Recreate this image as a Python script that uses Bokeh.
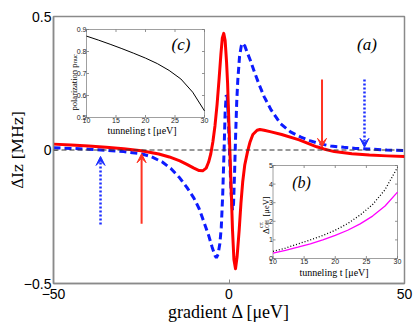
import math
from bokeh.plotting import figure
from bokeh.models import Range1d, FixedTicker, Label, Span, Arrow, VeeHead, ColumnDataSource
from bokeh.embed import file_html
from bokeh.resources import INLINE

# ---------------- data ----------------
red_x = [-50, -45, -40, -35, -30, -25, -20, -17, -14, -12, -10, -8.5, -7.5, -6.5, -5.8, -5.2,
         -4.6, -4.0, -3.4, -2.8, -2.3, -1.9, -1.5, -1.1, -0.7, -0.4, 0.0, 0.3, 0.6, 1.0, 1.4,
         1.85, 2.3, 2.9, 3.4, 3.9, 4.5, 5.3, 6.0, 6.8, 8.0, 8.8, 10, 12, 15, 20, 25, 27, 30,
         35, 40, 45, 50]
red_y = [0.022, 0.019, 0.015, 0.010, 0.005, -0.003, -0.015, -0.026, -0.041, -0.054, -0.068,
         -0.077, -0.078, -0.068, -0.045, -0.015, 0.030, 0.090, 0.170, 0.270, 0.360, 0.420,
         0.437, 0.410, 0.330, 0.250, 0.090, -0.020, -0.140, -0.300, -0.410, -0.445, -0.400,
         -0.300, -0.200, -0.120, -0.055, -0.005, 0.030, 0.058, 0.074, 0.077, 0.074, 0.068,
         0.058, 0.038, 0.012, 0.004, -0.006, -0.014, -0.019, -0.022, -0.024]

blue_x = [-50, -45, -40, -35, -30, -25, -22, -19, -16.5, -14, -12, -10, -8.5, -7, -5.8, -4.8,
          -4.0, -3.6, -3.1, -2.6, -2.2, -1.8, -1.4, -1.1, -0.8, -0.5, -0.2, 0.2, 0.6, 1.0,
          1.3, 1.6, 1.9, 2.2, 2.5, 3.0, 3.5, 3.9, 4.5, 5.2, 6.1, 7.3, 8.5, 10, 12, 14.7,
          17.5, 20.5, 23, 26, 29, 32.7, 36, 39.4, 45, 50]
blue_y = [0.008, 0.006, 0.003, -0.001, -0.006, -0.014, -0.026, -0.045, -0.070, -0.105, -0.140,
          -0.180, -0.220, -0.275, -0.320, -0.364, -0.395, -0.404, -0.390, -0.350, -0.290,
          -0.170, 0.000, 0.140, 0.205, 0.200, 0.120, -0.030, -0.160, -0.225, -0.200, -0.080,
          0.060, 0.180, 0.260, 0.350, 0.390, 0.400, 0.390, 0.365, 0.335, 0.290, 0.248, 0.200,
          0.150, 0.098, 0.068, 0.048, 0.035, 0.023, 0.015, 0.010, 0.006, 0.004, 0.000, -0.002]

arrow_red_x = [-24.9, 26.5]
arrow_red_from = [-0.276, 0.264]
arrow_red_to = [-0.014, 0.010]
arrow_blue_x = [-36.6, 38.6]
arrow_blue_from = [-0.279, 0.264]
arrow_blue_to = [-0.024, 0.010]

main_xticks = [-50, 0, 50]
main_xtick_labels = ["\u221250", "0", "50"]
main_yticks = [-0.5, 0, 0.5]
main_ytick_labels = ["\u22120.5", "0", "0.5"]
x_label = "gradient \u0394 [\u03bceV]"
y_label = "\u0394\u0307Iz [MHz]"

# inset (c)
c_t = [10, 12, 14, 16, 18, 20, 22, 24, 26, 28, 30]
c_p = [0.870, 0.852, 0.833, 0.813, 0.792, 0.770, 0.745, 0.714, 0.675, 0.615, 0.530]
c_xticks = [10, 15, 20, 25, 30]
c_yticks = [0.5, 0.6, 0.7, 0.8, 0.9]

# inset (b)
b_t = [10, 12, 14, 16, 18, 20, 22, 24, 26, 28, 30]
b_dotted = [0.38, 0.56, 0.78, 1.00, 1.24, 1.52, 1.88, 2.34, 2.90, 3.70, 4.90]
b_magenta = [0.29, 0.44, 0.61, 0.79, 1.00, 1.24, 1.52, 1.86, 2.28, 2.82, 3.57]
b_xticks = [10, 15, 20, 25, 30]
b_yticks = [0, 1, 2, 3, 4, 5]

# ---------------- layout ----------------
W, H = 415, 325
ML, MR, MT, MB = 53, 11, 16, 42
FX0, FX1 = ML, W - MR
FY0, FY1 = MT, H - MB
XMIN, XMAX, YMIN, YMAX = -50, 50, -0.5, 0.5

GRAY = "#8a8a8a"

p = figure(width=W, height=H, x_range=Range1d(XMIN, XMAX), y_range=Range1d(YMIN, YMAX),
           output_backend="svg", toolbar_location=None,
           min_border_left=ML, min_border_right=MR, min_border_top=MT, min_border_bottom=MB,
           background_fill_color="white", border_fill_color="white")
p.grid.visible = False
p.outline_line_color = GRAY
p.outline_line_width = 1.5

p.xaxis.ticker = FixedTicker(ticks=main_xticks, minor_ticks=[])
p.xaxis.major_label_overrides = dict(zip(main_xticks, main_xtick_labels))
p.yaxis.ticker = FixedTicker(ticks=main_yticks, minor_ticks=[])
p.yaxis.major_label_overrides = dict(zip(main_yticks, main_ytick_labels))
for ax in (p.xaxis[0], p.yaxis[0]):
    ax.axis_line_color = GRAY
    ax.axis_line_width = 1.5
    ax.major_tick_line_color = GRAY
    ax.major_tick_in = 4
    ax.major_tick_out = 0
    ax.minor_tick_line_color = None
    ax.major_label_text_font = "Liberation Sans"
    ax.major_label_text_font_size = "14px"
    ax.major_label_text_color = "black"
    ax.axis_label_text_font_style = "normal"
    ax.axis_label_text_color = "black"
p.yaxis.major_label_standoff = 2
p.xaxis.major_label_standoff = 5
p.xaxis.axis_label = x_label
p.xaxis.axis_label_text_font = "Liberation Serif"
p.xaxis.axis_label_text_font_size = "18px"
p.xaxis.axis_label_standoff = 0
p.yaxis.axis_label = y_label
p.yaxis.axis_label_text_font = "DejaVu Serif"
p.yaxis.axis_label_text_font_size = "15px"
p.yaxis.axis_label_standoff = -6

# zero line
p.add_layout(Span(location=0, dimension="width", line_color="#333333", line_width=1,
                  line_dash="5 3"))

# main curves
p.line(blue_x, blue_y, line_color="#0d1bff", line_width=3, line_dash="7 4")
p.line(red_x, red_y, line_color="#ff0000", line_width=3, line_join="round")

# arrows
red_src = ColumnDataSource(dict(x=arrow_red_x, y0=arrow_red_from, y1=arrow_red_to))
blue_src = ColumnDataSource(dict(x=arrow_blue_x, y0=arrow_blue_from, y1=arrow_blue_to))
p.add_layout(Arrow(source=red_src, x_start="x", y_start="y0", x_end="x", y_end="y1",
                   line_color="#ff3322", line_width=2,
                   end=VeeHead(size=9, fill_color="#ff3322", line_color="#ff3322", line_width=1)))
p.add_layout(Arrow(source=blue_src, x_start="x", y_start="y0", x_end="x", y_end="y1",
                   line_color="#1a2cff", line_width=2.5, line_dash="2 2",
                   end=VeeHead(size=9, fill_color="#1a2cff", line_color="#1a2cff", line_width=1)))


def lab(text, px, py, size, font="Liberation Serif", align="center", baseline="middle",
        angle=0.0, style="normal", color="black"):
    p.add_layout(Label(x=px, y=py, x_units="canvas", y_units="canvas", text=text,
                       text_font=font, text_font_size=f"{size}px", text_align=align,
                       text_baseline=baseline, angle=angle, angle_units="rad",
                       text_font_style=style, text_color=color))


R = math.pi / 2
lab("(a)", 366.5, 43.5, 17, style="italic")


# ---------------- insets ----------------
def ext_range(v0, p0, v1, p1, f_lo, f_hi):
    s = (v1 - v0) / (p1 - p0)
    a, b = v0 + (f_lo - p0) * s, v0 + (f_hi - p0) * s
    return Range1d(min(a, b), max(a, b)), abs(1 / s)


cx_r, cx_s = ext_range(c_xticks[0], 86, c_xticks[-1], 204, FX0, FX1)
cy_r, cy_s = ext_range(c_yticks[-1], 29, c_yticks[0], 117, FY0, FY1)
bx_r, bx_s = ext_range(b_xticks[0], 272.5, b_xticks[-1], 397, FX0, FX1)
by_r, by_s = ext_range(b_yticks[-1], 165, b_yticks[0], 258, FY0, FY1)
p.extra_x_ranges = {"cx": cx_r, "bx": bx_r}
p.extra_y_ranges = {"cy": cy_r, "by": by_r}

TL = 2.5  # tick length (px)


def inset_axes(xn, yn, xt, yt, xs, ys, xfmt, yfmt):
    x0, x1, y0, y1 = xt[0], xt[-1], yt[0], yt[-1]
    p.quad(left=[x0], right=[x1], bottom=[y0], top=[y1], x_range_name=xn, y_range_name=yn,
           fill_color="white", line_color="#a0a0a0", line_width=1)
    n = len(xt)
    dy = TL / ys
    dx = TL / xs
    p.segment(x0=xt, y0=[y0] * n, x1=xt, y1=[y0 + dy] * n, x_range_name=xn, y_range_name=yn,
              line_color="#777777", line_width=0.8)
    p.segment(x0=xt, y0=[y1] * n, x1=xt, y1=[y1 - dy] * n, x_range_name=xn, y_range_name=yn,
              line_color="#777777", line_width=0.8)
    m = len(yt)
    p.segment(x0=[x0] * m, y0=yt, x1=[x0 + dx] * m, y1=yt, x_range_name=xn, y_range_name=yn,
              line_color="#777777", line_width=0.8)
    p.segment(x0=[x1] * m, y0=yt, x1=[x1 - dx] * m, y1=yt, x_range_name=xn, y_range_name=yn,
              line_color="#777777", line_width=0.8)
    for t in xt:
        p.add_layout(Label(x=t, y=y0, x_range_name=xn, y_range_name=yn, text=xfmt(t),
                           text_align="center", text_baseline="top",
                           text_font="Liberation Sans", text_font_size="7px",
                           text_color="#222222"))
    for t in yt:
        p.add_layout(Label(x=x0, y=t, x_range_name=xn, y_range_name=yn, text=yfmt(t),
                           text_align="right", text_baseline="middle",
                           text_font="Liberation Sans", text_font_size="7px",
                           text_color="#222222"))


inset_axes("cx", "cy", c_xticks, c_yticks, cx_s, cy_s, lambda v: f"{v:g}", lambda v: f"{v:.1f}")
p.line(c_t, c_p, x_range_name="cx", y_range_name="cy", line_color="black", line_width=1)
lab("polarization p", 73, 110, 8.5, align="left", baseline="alphabetic", angle=R)
lab("nuc", 74.5, 62.5, 6, align="left", baseline="alphabetic", angle=R)
lab("tunneling t [\u03bceV]", 141.5, 129.5, 10)
lab("(c)", 180.5, 43.5, 17, style="italic")

inset_axes("bx", "by", b_xticks, b_yticks, bx_s, by_s, lambda v: f"{v:g}", lambda v: f"{v:g}")
p.line(b_t, b_dotted, x_range_name="bx", y_range_name="by", line_color="black", line_width=1.3,
       line_dash="1 2")
p.line(b_t, b_magenta, x_range_name="bx", y_range_name="by", line_color="#ff00ff", line_width=1.3)
lab("\u0394", 265, 233.5, 9, align="left", baseline="alphabetic", angle=R)
lab("OH", 266.5, 227.5, 5.5, align="left", baseline="alphabetic", angle=R)
lab("crt", 260, 227.5, 5.5, align="left", baseline="alphabetic", angle=R)
lab("[\u03bceV]", 265, 216, 8.5, align="left", baseline="alphabetic", angle=R)
lab("tunneling t [\u03bceV]", 333.5, 272, 10)
lab("(b)", 301, 181.5, 16, style="italic")

open("out.html", "w").write(file_html(p, INLINE))
